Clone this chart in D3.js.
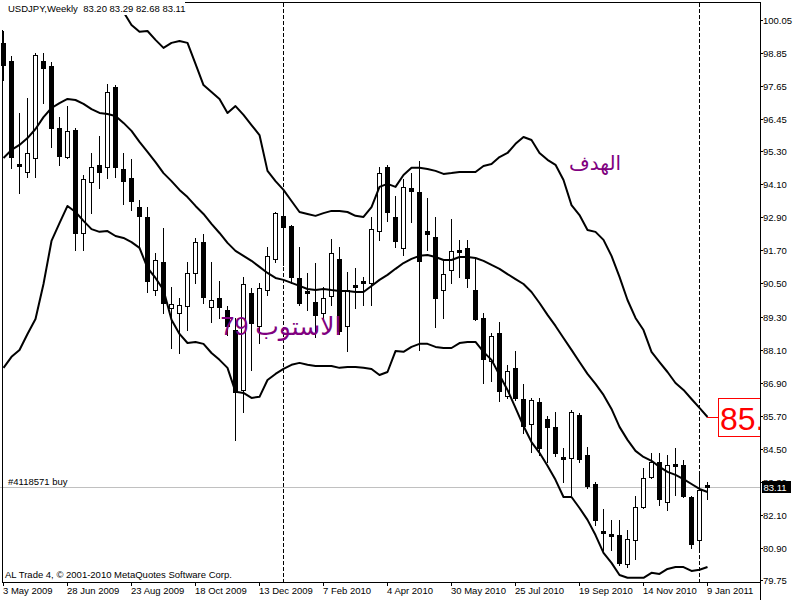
<!DOCTYPE html>
<html><head><meta charset="utf-8">
<script src="https://cdn.jsdelivr.net/npm/d3@7"></script>
<style>
body{margin:0;background:#fff;}
svg{display:block;}
text{font-family:"Liberation Sans",Arial,"DejaVu Sans",sans-serif;}
</style>
</head><body>
<svg id="c" width="800" height="600"></svg>
<script>
// Weekly USDJPY bars, first bar = week of 3 May 2009
const opens = [99.22,98.56,94.83,94.54,95.05,98.56,98.38,96.14,95.08,96.06,92.33,94.18,94.80,94.72,97.62,94.65,94.32,93.27,92.91,90.26,91.28,89.61,89.43,89.68,90.88,92.00,89.65,89.97,89.54,88.81,86.64,90.16,88.96,90.26,91.39,92.95,92.58,90.70,90.23,89.83,89.43,90.05,91.39,88.96,90.45,90.59,90.52,92.40,94.72,92.91,91.79,93.96,93.82,92.40,92.19,90.26,90.99,91.71,91.79,90.26,89.25,87.69,88.71,86.42,87.44,86.31,85.41,86.20,85.59,85.30,84.21,84.17,85.73,84.28,83.23,81.53,81.42,81.38,80.33,81.20,82.40,83.49,84.03,82.58,83.96,83.92,82.76,81.20,83.20];
const highs = [99.65,98.75,96.68,97.22,98.85,98.85,98.53,96.53,96.93,96.14,94.43,95.23,95.85,97.73,97.69,95.23,95.01,93.53,93.27,91.61,92.51,90.37,89.97,91.28,92.15,92.29,91.28,90.59,89.68,89.25,90.74,90.34,90.52,91.82,93.09,93.78,92.62,91.82,90.88,91.24,90.37,92.11,91.82,90.92,91.06,90.74,92.91,94.72,94.80,93.67,94.29,94.50,94.94,93.60,92.91,91.35,92.84,92.08,92.08,91.42,89.43,88.71,89.10,87.55,88.05,86.86,86.35,86.35,85.70,85.84,84.54,85.92,85.81,84.57,83.31,82.33,81.93,81.93,81.57,82.80,83.81,84.36,84.36,84.28,84.54,84.10,82.80,83.70,83.29];
const lows = [97.88,94.69,93.78,94.36,94.36,97.04,95.45,94.80,95.05,91.71,91.71,93.05,93.96,94.32,94.36,93.38,93.16,91.79,90.19,90.08,89.43,88.16,87.98,88.81,90.52,89.79,89.10,89.25,88.63,84.83,85.84,87.36,88.34,90.08,91.28,91.17,90.52,89.72,89.54,88.56,89.18,89.72,88.67,88.05,89.61,89.72,89.72,92.08,92.77,91.82,91.53,92.73,88.09,91.71,88.92,89.25,90.52,90.74,90.37,89.18,86.89,86.97,86.24,86.35,86.28,85.08,84.39,84.28,84.03,84.25,83.31,82.83,84.03,83.09,81.75,80.84,80.84,80.30,80.22,80.51,82.36,83.45,82.47,82.29,82.83,82.76,80.91,80.84,82.68];
const closes = [98.42,95.08,94.76,95.23,98.78,98.31,96.14,95.12,96.03,92.33,94.29,94.72,94.54,97.44,94.72,94.21,93.49,92.95,90.59,91.35,89.79,89.76,89.72,90.88,92.00,90.01,89.90,89.65,88.96,86.57,90.48,89.07,90.34,91.50,93.05,92.55,90.74,89.79,90.16,89.36,89.97,91.61,88.78,90.26,90.37,90.52,92.47,94.50,93.09,92.04,94.00,93.85,91.32,92.29,89.97,90.84,91.68,91.64,90.70,89.21,87.76,88.60,86.60,87.33,86.35,85.33,86.28,84.54,85.30,84.36,84.14,85.84,84.14,83.16,81.93,81.46,81.35,80.37,81.24,82.40,83.45,84.03,82.69,83.92,83.89,82.80,81.06,83.02,83.11];

// Bollinger bands (upper band is off-chart for the first bars)
const upperBand = [null,null,null,null,null,null,null,null,null,null,null,null,null,null,null,100.34,99.87,99.62,99.65,99.33,99.04,99.22,99.29,99.22,98.46,97.69,97.44,97.19,96.68,96.93,96.61,96.24,95.88,94.58,94.21,93.89,93.49,93.09,93.02,92.95,93.05,93.13,93.13,93.09,92.95,92.91,93.27,94.00,94.11,94.00,94.43,94.69,94.69,94.65,94.58,94.47,94.50,94.54,94.54,94.54,94.76,94.83,95.08,95.23,95.56,95.81,95.70,95.23,94.98,94.80,94.25,93.34,92.98,92.44,92.37,92.08,91.50,90.74,89.90,89.25,88.81,88.02,87.65,87.29,86.89,86.64,86.31,85.99,85.66];
const middleBand = [95.05,95.34,95.52,95.77,96.10,96.53,96.86,97.04,97.19,97.15,97.01,96.82,96.68,96.64,96.57,96.32,96.03,95.63,95.27,94.90,94.50,94.21,93.89,93.63,93.31,93.02,92.66,92.33,91.97,91.68,91.50,91.32,91.10,90.88,90.70,90.63,90.52,90.41,90.30,90.26,90.30,90.26,90.23,90.23,90.19,90.19,90.41,90.63,90.81,91.03,91.24,91.39,91.50,91.53,91.46,91.35,91.35,91.46,91.46,91.42,91.32,91.17,91.03,90.84,90.66,90.48,90.19,89.79,89.36,88.96,88.52,88.09,87.65,87.22,86.86,86.46,85.95,85.30,84.83,84.43,84.21,84.07,83.85,83.67,83.56,83.41,83.23,83.05,82.94];
const lowerBand = [87.44,87.84,88.09,88.67,89.21,90.48,92.04,92.69,93.31,93.09,92.77,92.47,92.37,92.40,92.22,92.15,92.00,91.79,91.06,90.70,90.26,89.18,88.67,88.34,88.38,88.31,87.98,87.73,87.44,86.57,86.53,86.35,86.39,87.00,87.22,87.40,87.55,87.62,87.55,87.51,87.51,87.51,87.44,87.47,87.47,87.44,87.40,87.18,87.29,88.05,88.02,88.20,88.31,88.31,88.20,88.16,88.16,88.34,88.38,88.38,88.02,87.73,87.18,86.64,85.99,85.33,84.75,84.36,83.89,83.38,82.76,82.76,82.36,81.93,81.38,80.73,80.37,79.93,79.83,79.83,79.83,80.01,79.97,80.15,80.22,80.22,80.08,80.12,80.22];

const priceTicks = [100.05,98.85,97.65,96.45,95.30,94.10,92.90,91.70,90.50,89.30,88.10,86.90,85.70,84.50,83.30,82.10,80.90,79.75];
const timeTickIndex = [0,8,16,24,32,40,48,56,64,72,80,88];
const timeTickLabels = ["3 May 2009","28 Jun 2009","23 Aug 2009","18 Oct 2009","13 Dec 2009","7 Feb 2010","4 Apr 2010","30 May 2010","25 Jul 2010","19 Sep 2010","14 Nov 2010","9 Jan 2011"];
const separatorIndex = [35, 87];
const symbolTitle = "USDJPY,Weekly  83.20 83.29 82.68 83.11";
const orderLabel = "#4118571 buy";
const orderPrice = 83.11;
const lastPrice = 83.11;
const targetLabel = "85.";
const targetText = "الهدف";
const stopText = "الاستوب 79";
const footer = "AL Trade 4, \u00A9 2001-2010 MetaQuotes Software Corp.";

const svg = d3.select("#c");
const W = 800, H = 600;
const plotRight = 760, plotBottom = 582, plotTop = 3;

const x = d3.scaleLinear().domain([0, 88]).range([3, 707]);
const y = d3.scaleLinear().domain([79.75, 100.05]).range([580, 20]);
const px = i => Math.round(x(i));
const py = v => Math.round(y(v));

svg.append("rect").attr("width", W).attr("height", H).attr("fill", "#fff");

const defs = svg.append("defs");
defs.append("clipPath").attr("id", "plotClip").append("rect")
  .attr("x", 0).attr("y", plotTop).attr("width", plotRight).attr("height", plotBottom - plotTop);
defs.append("clipPath").attr("id", "tagClip").append("rect")
  .attr("x", 760).attr("y", 0).attr("width", 40).attr("height", Math.round(y(lastPrice)) - 6);

const plot = svg.append("g").attr("clip-path", "url(#plotClip)");

// period separators
plot.selectAll("line.sep").data(separatorIndex).join("line")
  .attr("x1", d => px(d) + 0.5).attr("x2", d => px(d) + 0.5)
  .attr("y1", plotTop).attr("y2", plotBottom)
  .attr("stroke", "#000").attr("stroke-width", 1).attr("stroke-dasharray", "4,2");

// order line
plot.append("line").attr("x1", 0).attr("x2", plotRight)
  .attr("y1", py(orderPrice) + 0.5).attr("y2", py(orderPrice) + 0.5)
  .attr("stroke", "#c0c0c0").attr("stroke-width", 1);

// candles
const idx = d3.range(opens.length);
const cg = plot.append("g");
cg.selectAll("line.wick").data(idx).join("line")
  .attr("x1", i => px(i) + 0.5).attr("x2", i => px(i) + 0.5)
  .attr("y1", i => py(highs[i])).attr("y2", i => py(lows[i]) + 1)
  .attr("stroke", "#000").attr("stroke-width", 1);
cg.selectAll("rect.body").data(idx).join("rect")
  .attr("x", i => closes[i] >= opens[i] ? px(i) - 2 + 0.5 : px(i) - 2)
  .attr("y", i => {
    const t = py(Math.max(opens[i], closes[i]));
    return closes[i] >= opens[i] ? t + 0.5 : t;
  })
  .attr("width", i => closes[i] >= opens[i] ? 4 : 5)
  .attr("height", i => {
    const t = py(Math.max(opens[i], closes[i])), b = py(Math.min(opens[i], closes[i]));
    return closes[i] >= opens[i] ? Math.max(b - t, 1) : Math.max(b - t + 1, 1);
  })
  .attr("fill", i => closes[i] >= opens[i] ? "#fff" : "#000")
  .attr("stroke", i => closes[i] >= opens[i] ? "#000" : "none")
  .attr("stroke-width", 1);

// bands
const band = d3.line().defined(d => d != null).x((d, i) => x(i) + 0.5).y(d => y(d));
[upperBand, middleBand, lowerBand].forEach(arr => {
  plot.append("path").attr("d", band(arr)).attr("fill", "none")
    .attr("stroke", "#000").attr("stroke-width", 2).attr("stroke-linejoin", "round");
});

// target price label box
const lastI = upperBand.length - 1;
const ty = py(upperBand[lastI]) + 0.5;
plot.append("line").attr("x1", x(lastI)).attr("x2", 718).attr("y1", ty).attr("y2", ty)
  .attr("stroke", "#ff0000").attr("stroke-width", 1);
plot.append("rect").attr("x", 718.5).attr("y", ty - 19).attr("width", 100).attr("height", 38)
  .attr("fill", "#fff").attr("stroke", "#ff0000").attr("stroke-width", 1);
plot.append("text").attr("x", 720).attr("y", ty + 12).attr("font-size", 32)
  .attr("fill", "#ff0000").text(targetLabel);

// Arabic annotations
plot.append("text").attr("x", 595).attr("y", 170).attr("text-anchor", "middle")
  .attr("font-size", 20).attr("fill", "#800080").text(targetText);
plot.append("text").attr("x", 281).attr("y", 335).attr("text-anchor", "middle")
  .attr("font-size", 25).attr("fill", "#800080").text(stopText);

// order label
plot.append("text").attr("x", 8).attr("y", 485).attr("font-size", 9.5).attr("fill", "#000").text(orderLabel);
// footer
plot.append("text").attr("x", 5).attr("y", 578).attr("font-size", 9.5).attr("fill", "#000").text(footer);

// frame
svg.append("line").attr("x1", 2.5).attr("x2", 2.5).attr("y1", 30).attr("y2", plotBottom).attr("stroke", "#000");
svg.append("line").attr("x1", 185).attr("x2", plotRight).attr("y1", 2.5).attr("y2", 2.5).attr("stroke", "#000");
svg.append("line").attr("x1", plotRight + 0.5).attr("x2", plotRight + 0.5).attr("y1", 2).attr("y2", H).attr("stroke", "#000");
svg.append("line").attr("x1", 2).attr("x2", plotRight).attr("y1", plotBottom + 0.5).attr("y2", plotBottom + 0.5).attr("stroke", "#000");

// title box
svg.append("rect").attr("x", 0).attr("y", 0).attr("width", 185).attr("height", 15).attr("fill", "#fff");
svg.append("text").attr("x", 8).attr("y", 12).attr("font-size", 9.5).attr("fill", "#000")
  .text(symbolTitle).attr("xml:space", "preserve").style("white-space", "pre");

// price axis
const yAxis = svg.append("g");
priceTicks.forEach(v => {
  const yy = py(v) + 0.5;
  const hidden = Math.abs(y(v) - y(lastPrice)) < 10;
  yAxis.append("line").attr("x1", plotRight).attr("x2", plotRight + 3).attr("y1", yy).attr("y2", yy).attr("stroke", "#000");
  const t = yAxis.append("text").attr("x", 763).attr("y", yy + 3.5).attr("font-size", 9.5).attr("fill", "#000")
    .text(d3.format(".2f")(v));
  if (hidden) t.attr("clip-path", "url(#tagClip)");
});
// last price tag
const ly = y(lastPrice);
yAxis.append("rect").attr("x", 762).attr("y", Math.round(ly) - 6).attr("width", 29).attr("height", 12).attr("fill", "#000");
yAxis.append("text").attr("x", 763.5).attr("y", Math.round(ly) + 3.5).attr("font-size", 9.5).attr("fill", "#fff")
  .text(d3.format(".2f")(lastPrice));

// time axis
const xAxis = svg.append("g");
timeTickIndex.forEach((ti, k) => {
  const xx = px(ti) + 0.5;
  xAxis.append("line").attr("x1", xx).attr("x2", xx).attr("y1", plotBottom).attr("y2", plotBottom + 4).attr("stroke", "#000");
  xAxis.append("text").attr("x", px(ti)).attr("y", 594).attr("font-size", 9.5).attr("fill", "#000")
    .text(timeTickLabels[k]);
});
</script>
</body></html>
